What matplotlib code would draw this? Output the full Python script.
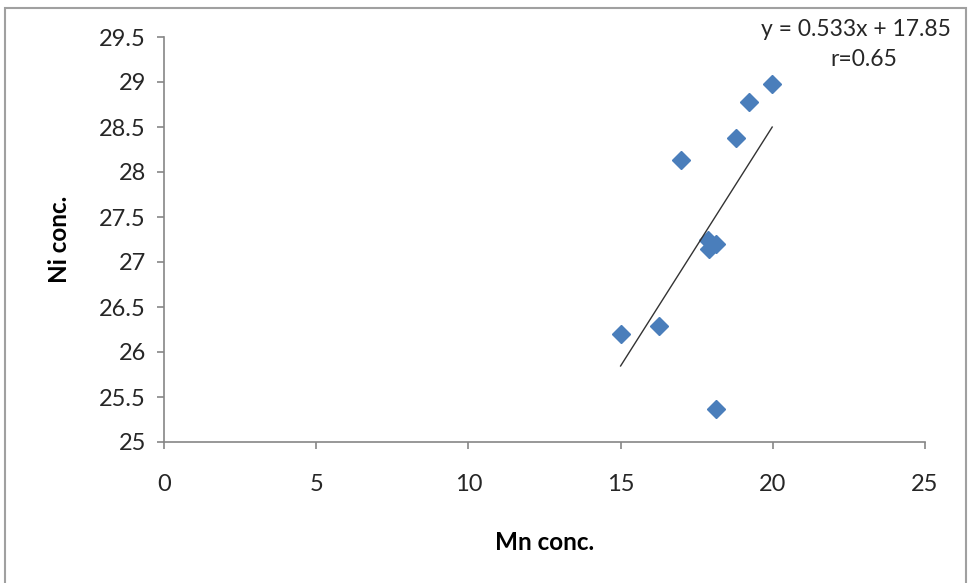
import numpy as np
import matplotlib.pyplot as plt
from matplotlib.patches import Rectangle

# Mn / Ni concentrations
mn_conc = [15.0, 16.26, 16.98, 18.79, 19.22, 19.98, 17.86, 18.13, 17.91, 18.12]
ni_conc = [26.20, 26.29, 28.13, 28.38, 28.78, 28.98, 27.24, 27.20, 27.14, 25.37]

# trendline as printed on the chart
slope = 0.533
intercept = 17.85
r_value = 0.65

x_ticks = [0, 5, 10, 15, 20, 25]
y_ticks = [25, 25.5, 26, 26.5, 27, 27.5, 28, 28.5, 29, 29.5]

plt.rcParams['font.family'] = ['Lato', 'DejaVu Sans']

fig = plt.figure(figsize=(9.68, 5.83), dpi=100)
ax = fig.add_axes([164 / 968, 1 - 442 / 583, (925 - 164) / 968, (442 - 37) / 583])

# outer frame around the chart area
fig.patches.append(Rectangle((5 / 968, -0.05), (966 - 5) / 968, 1.05 - 8 / 583,
                             transform=fig.transFigure, fill=False,
                             edgecolor='#a0a0a0', linewidth=1.5))

ax.plot(mn_conc, ni_conc, linestyle='none', marker='D', markersize=9,
        color='#4a7ebb', markeredgecolor='#4a7ebb')

fit_x = np.array([min(mn_conc), max(mn_conc)])
ax.plot(fit_x, slope * fit_x + intercept, color='#333333', linewidth=1)

ax.set_xlim(0, 25)
ax.set_ylim(25, 29.5)
ax.set_xticks(x_ticks)
ax.set_yticks(y_ticks)
ax.set_xticklabels([str(t) for t in x_ticks])
ax.set_yticklabels(['{:g}'.format(t) for t in y_ticks])

for side in ['top', 'right']:
    ax.spines[side].set_visible(False)
for side in ['left', 'bottom']:
    ax.spines[side].set_color('#868686')
    ax.spines[side].set_linewidth(1.2)

ax.tick_params(direction='out', length=5, width=1.2, color='#868686',
               labelsize=17, labelcolor='#262626')
ax.tick_params(axis='x', pad=18)
ax.tick_params(axis='y', pad=8)

ax.set_xlabel('Mn conc.', fontsize=17.5, fontweight='bold', labelpad=26)
ax.set_ylabel('Ni conc.', fontsize=17.5, fontweight='bold', labelpad=20)

fig.text(856 / 968, 1 - 30 / 583,
         'y = {:.3f}x + {:.2f}'.format(slope, intercept),
         ha='center', va='center', fontsize=16.5, color='#262626')
fig.text(864 / 968, 1 - 60 / 583, 'r={:.2f}'.format(r_value),
         ha='center', va='center', fontsize=16.5, color='#262626')

fig.savefig('out.png', dpi=100)
